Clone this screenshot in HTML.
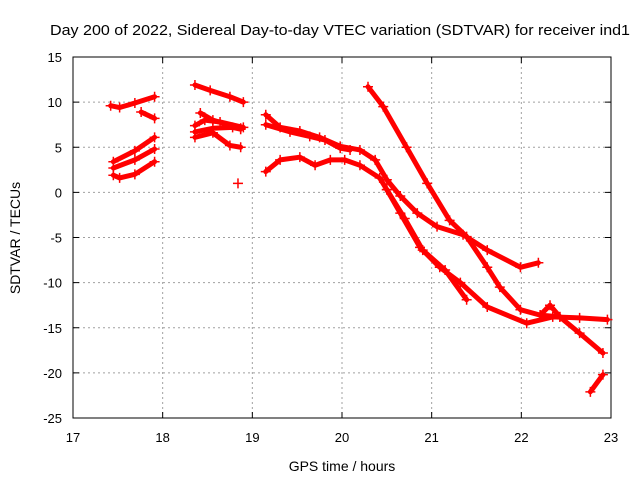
<!DOCTYPE html>
<html><head><meta charset="utf-8"><style>
body{margin:0;background:#fff}
svg{display:block;font-family:"Liberation Sans",sans-serif}
</style></head><body>
<svg id="c" width="640" height="480">
<text x="340" y="35" text-anchor="middle" font-size="15" textLength="580" lengthAdjust="spacingAndGlyphs">Day 200 of 2022, Sidereal Day-to-day VTEC variation (SDTVAR) for receiver ind1</text>
<text x="342" y="471" text-anchor="middle" font-size="14">GPS time / hours</text>
<text transform="translate(20,238) rotate(-90)" text-anchor="middle" font-size="14">SDTVAR / TECUs</text>
<g id="grid"></g><g id="axes"></g><g id="data"></g>
</svg>
<script>
const xTicks=[17,18,19,20,21,22,23];
const yTicks=[15,10,5,0,-5,-10,-15,-20,-25];
const trackA_x=[17.42,17.52,17.69,17.91];const trackA_y=[9.6,9.4,9.9,10.6];
const trackB_x=[17.76,17.91];const trackB_y=[8.9,8.2];
const trackC1_x=[17.45,17.69,17.91];const trackC1_y=[3.4,4.6,6.1];
const trackC2_x=[17.45,17.69,17.91];const trackC2_y=[2.7,3.6,4.8];
const trackC3_x=[17.45,17.52,17.69,17.91];const trackC3_y=[1.9,1.6,2.0,3.4];
const trackD_x=[18.36,18.53,18.75,18.90];const trackD_y=[11.9,11.3,10.6,10.0];
const trackE1_x=[18.42,18.56,18.87];const trackE1_y=[8.8,8.0,7.1];
const trackE2_x=[18.36,18.56,18.78,18.87];const trackE2_y=[6.7,7.1,7.2,7.0];
const trackE3_x=[18.36,18.56,18.75,18.87];const trackE3_y=[6.1,6.6,5.2,5.0];
const trackE4_x=[18.36,18.47,18.64,18.90];const trackE4_y=[7.4,8.0,7.8,7.2];
const dot_x=[18.84];const dot_y=[1.0];
const trackF1_x=[19.15,19.31,19.53,19.75,19.98,20.20,20.37,20.50,20.65,20.84,21.06,21.35,21.62,21.99,22.19];
const trackF1_y=[8.6,7.2,6.8,6.1,5.1,4.7,3.6,1.4,-0.4,-2.3,-3.8,-4.7,-6.4,-8.3,-7.8];
const trackF2_x=[19.15,19.42,19.64,19.81,19.98,20.09];const trackF2_y=[7.5,6.7,6.2,5.8,4.9,4.7];
const trackG_x=[19.15,19.31,19.53,19.70,19.87,20.03,20.20,20.42,20.50,20.65,20.87,21.09,21.32,21.62,22.06,22.35,22.65,22.96];
const trackG_y=[2.3,3.6,3.9,3.0,3.6,3.6,3.0,1.6,0.3,-2.3,-6.1,-8.3,-10.0,-12.7,-14.5,-13.8,-13.9,-14.1];
const trackH_x=[20.50,20.70,20.90,21.15,21.39];const trackH_y=[0.3,-2.9,-6.4,-8.6,-11.9];
const trackI_x=[20.29,20.46,20.72,20.95,21.20,21.39,21.62,21.76,21.99,22.21,22.43,22.65,22.91];
const trackI_y=[11.7,9.5,5.0,1.0,-3.1,-4.9,-8.3,-10.5,-13.0,-13.6,-13.8,-15.6,-17.8];
const trackJ_x=[22.21,22.32,22.43];const trackJ_y=[-13.6,-12.5,-13.8];
const trackK_x=[22.77,22.91];const trackK_y=[-22.1,-20.2];
const L=73,R=611,T=57,B=418;
const X=v=>L+(v-17)/6*(R-L), Y=v=>T+(15-v)/40*(B-T);
const ns="http://www.w3.org/2000/svg";
function mk(tag,parent,attrs){const e=document.createElementNS(ns,tag);for(const k in attrs)e.setAttribute(k,attrs[k]);parent.appendChild(e);return e;}
const grid=document.getElementById('grid'),axes=document.getElementById('axes'),data=document.getElementById('data');
xTicks.forEach(t=>{
 if(t>17&&t<23){const g=mk('line',grid,{x1:X(t),x2:X(t),y1:T,y2:B,stroke:'#a0a0a0','stroke-dasharray':'2,3'});
 
 }
 mk('line',axes,{x1:X(t),x2:X(t),y1:B,y2:B-6,stroke:'#000'});
 mk('line',axes,{x1:X(t),x2:X(t),y1:T,y2:T+6,stroke:'#000'});
 const l=mk('text',axes,{x:X(t),y:B+24,'text-anchor':'middle','font-size':13});l.textContent=t;
 
 
});
yTicks.forEach(t=>{
 if(t<15&&t>-25){const g=mk('line',grid,{x1:L,x2:R,y1:Y(t),y2:Y(t),stroke:'#a0a0a0','stroke-dasharray':'2,3'});
 
 }
 mk('line',axes,{x1:L,x2:L+6,y1:Y(t),y2:Y(t),stroke:'#000'});
 mk('line',axes,{x1:R,x2:R-6,y1:Y(t),y2:Y(t),stroke:'#000'});
 const l=mk('text',axes,{x:L-11,y:Y(t)+5,'text-anchor':'end','font-size':13});l.textContent=t;
 
 
});
const frame=mk('rect',axes,{x:L,y:T,width:R-L,height:B-T,fill:'none',stroke:'#000'});


const tracks=[[trackA_x,trackA_y],[trackB_x,trackB_y],[trackC1_x,trackC1_y],[trackC2_x,trackC2_y],[trackC3_x,trackC3_y],[trackD_x,trackD_y],[trackE1_x,trackE1_y],[trackE2_x,trackE2_y],[trackE3_x,trackE3_y],[trackE4_x,trackE4_y],[dot_x,dot_y],[trackF1_x,trackF1_y],[trackF2_x,trackF2_y],[trackG_x,trackG_y],[trackH_x,trackH_y],[trackI_x,trackI_y],[trackJ_x,trackJ_y],[trackK_x,trackK_y]];
tracks.forEach(([xs,ys])=>{
 const pts=xs.map((v,i)=>X(v)+','+Y(ys[i])).join(' ');
 const p=mk('polyline',data,{points:pts,fill:'none',stroke:'#f00','stroke-width':5,'stroke-linejoin':'round','stroke-linecap':'round'});
 
 
 xs.forEach((v,i)=>{
  const m=mk('path',data,{d:`M${X(v)-5},${Y(ys[i])}h10M${X(v)},${Y(ys[i])-5}v10`,stroke:'#f00','stroke-width':1.5});
  
  
 });
});
</script>
</body></html>
